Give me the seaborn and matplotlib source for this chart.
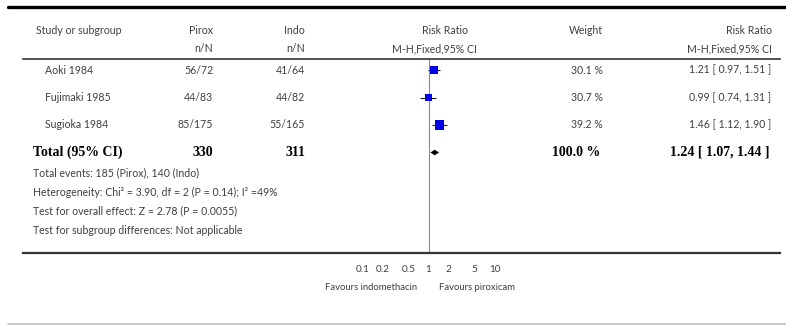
import numpy as np
import pandas as pd
import matplotlib
matplotlib.use("Agg")
import matplotlib.pyplot as plt
import matplotlib.transforms as mtransforms
from matplotlib.lines import Line2D
from matplotlib.ticker import NullLocator
import seaborn as sns

# ---------------- data ----------------
studies = ["Aoki 1984", "Fujimaki 1985", "Sugioka 1984"]
pirox_nN = ["56/72", "44/83", "85/175"]
indo_nN = ["41/64", "44/82", "55/165"]
rr = [1.21, 0.99, 1.46]
rr_lo = [0.97, 0.74, 1.12]
rr_hi = [1.51, 1.31, 1.90]
weights = [30.1, 30.7, 39.2]

total_label = "Total (95% CI)"
total_pirox = "330"
total_indo = "311"
total_rr = 1.24
total_lo = 1.07
total_hi = 1.44
total_weight = 100.0

footnotes = [
    "Total events: 185 (Pirox), 140 (Indo)",
    "Heterogeneity: Chi\u00b2 = 3.90, df = 2 (P = 0.14); I\u00b2 =49%",
    "Test for overall effect: Z = 2.78 (P = 0.0055)",
    "Test for subgroup differences: Not applicable",
]
tick_values = [0.1, 0.2, 0.5, 1, 2, 5, 10]
tick_labels = ["0.1", "0.2", "0.5", "1", "2", "5", "10"]
favours_left = "Favours indomethacin"
favours_right = "Favours piroxicam"

df = pd.DataFrame({"study": studies, "rr": rr, "lo": rr_lo, "hi": rr_hi,
                   "weight": weights, "row": np.arange(len(studies))})
total_row = len(studies)

# ---------------- style ----------------
sns.set_theme(style="white")
plt.rcParams["font.family"] = ["Lato", "DejaVu Sans"]
TXT = "#404040"
FS = 7.6

W, H = 786, 325
fig = plt.figure(figsize=(W / 100, H / 100), dpi=100)
fig.patch.set_facecolor("white")

def fx(px):
    return px / W

def fy(py):
    return 1 - py / H

# forest axes spans the table width between header line and axis line
ax_left, ax_right, ax_top, ax_bot = 23, 780, 59, 253
ax = fig.add_axes([fx(ax_left), fy(ax_bot), fx(ax_right - ax_left), (ax_bot - ax_top) / H])
ax.set_facecolor("none")

x_one, decade = 428.5, 66.0
ax.set_xscale("log")
ax.set_xlim(10 ** ((ax_left - x_one) / decade), 10 ** ((ax_right - x_one) / decade))
row0_px, row_step = 70.0, 27.5
ax.set_ylim((ax_bot - row0_px) / row_step, -(row0_px - ax_top) / row_step)

# reference line at 1
ax.axvline(1, color="#8a8a8a", lw=0.8, zorder=1)

# CI lines and squares
ax.hlines(df["row"], df["lo"], df["hi"], color="#222222", lw=0.8, zorder=2)
sns.scatterplot(data=df, x="rr", y="row", size="weight", sizes=(26, 44),
                marker="s", color="#0000e6", linewidth=0, legend=False,
                ax=ax, zorder=3)

# total diamond
h = 0.1
ax.fill([total_lo, total_rr, total_hi, total_rr],
        [total_row, total_row - h, total_row, total_row + h],
        color="black", lw=0, zorder=3)

# axis styling
ax.set_xticks(tick_values)
ax.set_xticklabels(tick_labels)
ax.xaxis.set_minor_locator(NullLocator())
ax.set_yticks([])
ax.set_xlabel("")
ax.set_ylabel("")
ax.tick_params(axis="x", direction="in", length=4, width=0.8, colors="#333333",
               labelcolor=TXT, labelsize=7.2, pad=9)
for s in ["left", "right"]:
    ax.spines[s].set_visible(False)
ax.spines["top"].set_color("#333333")
ax.spines["top"].set_linewidth(1.2)
ax.spines["bottom"].set_color("#333333")
ax.spines["bottom"].set_linewidth(1.6)

# ---------------- table text ----------------
tr = mtransforms.blended_transform_factory(fig.transFigure, ax.transData)

def rowtext(px, row, s, ha="left", **kw):
    ax.text(fx(px), row, s, transform=tr, ha=ha, va="center", color=TXT,
            fontsize=FS, clip_on=False, **kw)

for i, r in df.iterrows():
    rowtext(45, r["row"], r["study"])
    rowtext(213, r["row"], pirox_nN[i], ha="right")
    rowtext(305, r["row"], indo_nN[i], ha="right")
    rowtext(603, r["row"], f"{r['weight']:.1f} %", ha="right")
    rowtext(771, r["row"], f"{r['rr']:.2f} [ {r['lo']:.2f}, {r['hi']:.2f} ]", ha="right")

bold = dict(family=["Liberation Serif", "DejaVu Serif"], fontweight="bold")
ax.text(fx(33), total_row, total_label, transform=tr, ha="left", va="center",
        color="black", fontsize=10, clip_on=False, **bold)
ax.text(fx(213), total_row, total_pirox, transform=tr, ha="right", va="center",
        color="black", fontsize=10, clip_on=False, **bold)
ax.text(fx(305), total_row, total_indo, transform=tr, ha="right", va="center",
        color="black", fontsize=10, clip_on=False, **bold)
ax.text(fx(600), total_row, f"{total_weight:.1f} %", transform=tr, ha="right",
        va="center", color="black", fontsize=10, clip_on=False, **bold)
ax.text(fx(770), total_row, f"{total_rr:.2f} [ {total_lo:.2f}, {total_hi:.2f} ]",
        transform=tr, ha="right", va="center", color="black", fontsize=10,
        clip_on=False, **bold)

# headers
def ftext(px, py, s, ha="left", fs=FS):
    fig.text(fx(px), fy(py), s, ha=ha, va="center", color=TXT, fontsize=fs)

ftext(36, 31, "Study or subgroup")
ftext(213, 31, "Pirox", ha="right")
ftext(213, 49, "n/N", ha="right")
ftext(305, 31, "Indo", ha="right")
ftext(305, 49, "n/N", ha="right")
ftext(445.5, 31, "Risk Ratio", ha="center")
ftext(434, 49, "M-H,Fixed,95% CI", ha="center")
ftext(603, 31, "Weight", ha="right")
ftext(772, 31, "Risk Ratio", ha="right")
ftext(772, 49, "M-H,Fixed,95% CI", ha="right")

# footnotes
for k, s in enumerate(footnotes):
    ftext(33, 173 + 19 * k, s)

# favours labels
ftext(417, 288, favours_left, ha="right", fs=6.8)
ftext(439, 288, favours_right, ha="left", fs=6.8)

# decorative rules
fig.add_artist(Line2D([fx(8), 1], [fy(7), fy(7)], color="black", lw=2.4))
fig.add_artist(Line2D([fx(8), 1], [fy(323.5), fy(323.5)], color="#bdbdbd", lw=1.2))

fig.savefig("out.png", dpi=100, facecolor="white")
